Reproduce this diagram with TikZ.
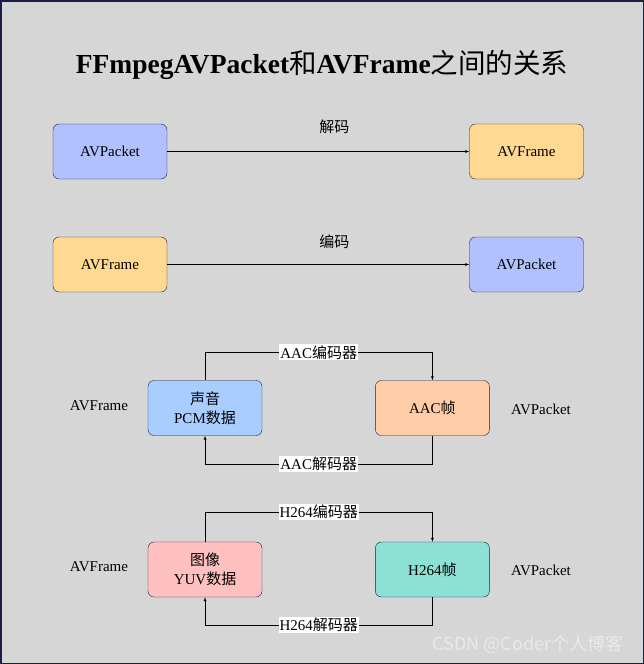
\documentclass[tikz,border=0pt]{standalone}
\usepackage{fontspec}
\setmainfont{Liberation Serif}
\newfontfamily\cjk{Noto Sans CJK SC}
\usetikzlibrary{arrows,positioning}

\definecolor{bggray}{HTML}{D6D6D6}
\definecolor{edgenavy}{HTML}{1B1F45}
\definecolor{pktblue}{HTML}{B0C1FE}
\definecolor{frmorange}{HTML}{FFD991}
\definecolor{pcmblue}{HTML}{A9CDFF}
\definecolor{aacpeach}{HTML}{FFCCA8}
\definecolor{yuvpink}{HTML}{FFC0C0}
\definecolor{hteal}{HTML}{8DE0D4}
\definecolor{markgray}{HTML}{EAEAEA}
\newcommand{\zh}[1]{{\cjk #1}}

\begin{document}
\begin{tikzpicture}[x=1pt,y=-1pt,>=latex,node distance=416.5pt,
    box/.style={draw=edgenavy,rounded corners=6pt,minimum width=114pt,minimum height=55pt,
                font=\fontsize{15}{19}\selectfont,align=center,inner sep=0pt},
    tag/.style={font=\fontsize{15}{18}\selectfont,inner sep=0pt},
    lbl/.style={fill=white,font=\fontsize{15}{17}\selectfont,inner sep=1pt}]
    \useasboundingbox (0,0) rectangle (644,664);
    \draw[fill=bggray,draw=edgenavy,line width=1.5pt] (0.75,0.75) rectangle (643.25,663.25);
    \node (title) at (322,65) {\fontsize{27.5}{31}\selectfont\bfseries FFmpegAVPacket\zh{\mdseries 和}AVFrame\zh{\mdseries 之间的关系}};

    % decode / encode
    \node[box,fill=pktblue]   (pkt1) at (110,151.5)      {AVPacket};
    \node[box,fill=frmorange] (frm1) [right of=pkt1]     {AVFrame};
    \node[box,fill=frmorange] (frm2) at (110,264.5)      {AVFrame};
    \node[box,fill=pktblue]   (pkt2) [right of=frm2]     {AVPacket};
    \draw[->] (pkt1) -- node[tag,above=18pt,xshift=16pt] {\zh{解码}} (frm1);
    \draw[->] (frm2) -- node[tag,above=16pt,xshift=16pt] {\zh{编码}} (pkt2);

    % audio
    \node[box,fill=pcmblue]   (pcm)  at (205,408)        {\zh{声音}\\PCM\zh{数据}};
    \node[box,fill=aacpeach]  (aac)  [right=113pt of pcm] {AAC\zh{帧}};
    \node[tag] (afrm) at (99,406)  {AVFrame};
    \node[tag] (apkt) at (541,409) {AVPacket};
    \draw[->] (pcm.north) -- ++(0,-28) -| node[lbl,pos=0.25] {AAC\zh{编码器}} (aac.north);
    \draw[->] (aac.south) -- ++(0,28) -| node[lbl,pos=0.25] {AAC\zh{解码器}} (pcm.south);

    % video
    \node[box,fill=yuvpink]   (yuv)  at (205,569.5)      {\zh{图像}\\YUV\zh{数据}};
    \node[box,fill=hteal]     (h264) [right=113pt of yuv] {H264\zh{帧}};
    \node[tag] (vfrm) at (99,567)  {AVFrame};
    \node[tag] (vpkt) at (541,570) {AVPacket};
    \draw[->] (yuv.north) -- ++(0,-30) -| node[lbl,pos=0.25] {H264\zh{编码器}} (h264.north);
    \draw[->] (h264.south) -- ++(0,28) -| node[lbl,pos=0.25] {H264\zh{解码器}} (yuv.south);

    \node[font=\cjk\fontsize{18}{20}\selectfont,text=markgray] (mark) at (528,644) {CSDN @Coder个人博客};
\end{tikzpicture}
\end{document}
